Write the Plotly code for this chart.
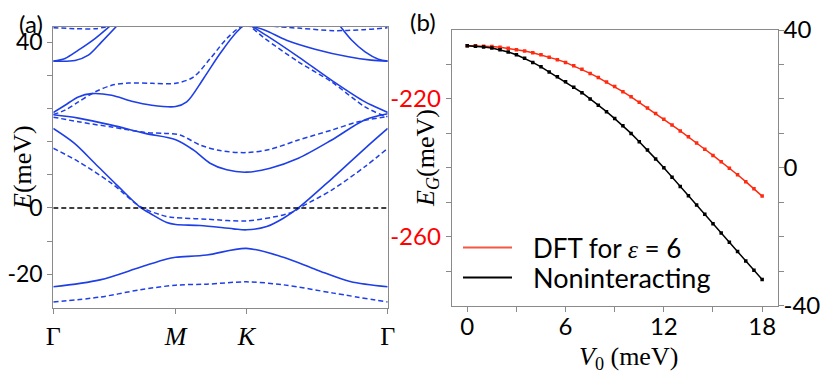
import plotly.graph_objects as go

# ---- panel (a): bands along Gamma-M-K-Gamma (k in units of path length)
K_PATH_TICKS = [0.0, 0.866, 1.366, 2.366]
K_PATH_LABELS = ["Γ", "<i>M</i>", "<i>K</i>", "Γ"]

# solid bands
s1_k = [0, 0.330, 0.614, 0.803, 0.866, 1.086, 1.366, 1.628, 1.864, 2.100, 2.366]
s1_e = [-23.8, -21.7, -17.9, -15.4, -14.9, -14.2, -12.2, -14.9, -18.7, -22.2, -23.8]

s3_k = [0, 0.15, 0.30, 0.45, 0.62, 0.684, 0.803, 0.866, 1.038, 1.274, 1.366, 1.510, 1.628, 1.734, 1.970, 2.206, 2.366]
s3_e = [24.0, 19.5, 13.2, 6.9, 0.0, -1.6, -4.4, -5.0, -5.3, -6.3, -6.6, -5.6, -3.1, 0.0, 8.8, 18.0, 24.0]

s5_k = [0, 0.177, 0.413, 0.650, 0.866, 0.991, 1.109, 1.227, 1.366, 1.534, 1.734, 1.970, 2.206, 2.366]
s5_e = [28.1, 27.1, 25.0, 22.5, 20.6, 17.5, 13.5, 11.5, 10.8, 12.0, 15.0, 20.5, 26.6, 28.4]

s7_k = [0, 0.083, 0.177, 0.271, 0.413, 0.554, 0.696, 0.866, 0.944, 1.062, 1.180, 1.298, 1.366,
        1.498, 1.734, 1.970, 2.206, 2.347, 2.366]
s7_e = [28.8, 31.0, 33.5, 34.5, 34.0, 32.2, 31.0, 30.6, 32.0, 39.0, 46.6, 53.1, 55.3,
        52.3, 45.6, 38.5, 32.0, 29.2, 28.8]

sa_k = [1.366, 1.498, 1.650, 1.852, 2.088, 2.250, 2.366]
sa_e = [55.3, 53.6, 50.6, 47.9, 45.6, 44.6, 44.3]

st1_k = [0, 0.083, 0.177, 0.295, 0.401]
st1_e = [44.3, 45.1, 47.6, 51.1, 54.9]

st2_k = [0, 0.154, 0.248, 0.342, 0.449]
st2_e = [44.3, 44.5, 46.1, 50.1, 54.9]

st3_k = [2.029, 2.112, 2.206, 2.300, 2.366]
st3_e = [54.9, 50.6, 47.1, 44.9, 44.3]

# dashed bands
d2_k = [0, 0.330, 0.614, 0.866, 1.086, 1.366, 1.628, 1.982, 2.366]
d2_e = [-28.4, -26.9, -24.7, -23.3, -23.0, -22.3, -23.2, -25.7, -28.4]

d4_k = [0, 0.177, 0.413, 0.62, 0.803, 0.866, 1.086, 1.366, 1.628, 1.699, 1.758, 1.970, 2.206, 2.366]
d4_e = [18.0, 14.0, 7.4, 0.3, -2.6, -2.9, -3.4, -3.9, -2.1, -1.1, 0.4, 5.4, 12.5, 18.0]

d6_k = [0, 0.177, 0.413, 0.650, 0.791, 0.897, 1.038, 1.180, 1.366, 1.534, 1.734, 1.970, 2.159, 2.366]
d6_e = [27.4, 26.0, 24.4, 22.8, 22.5, 22.0, 19.0, 17.3, 16.7, 17.7, 20.5, 23.5, 26.0, 27.6]

d8_k = [0, 0.083, 0.177, 0.295, 0.413, 0.531, 0.700, 0.866, 0.991, 1.109, 1.227, 1.322, 1.366,
        1.498, 1.734, 1.970, 2.206, 2.347, 2.366]
d8_e = [28.2, 29.5, 32.0, 35.0, 37.0, 37.7, 37.6, 37.6, 39.5, 45.0, 51.1, 54.6, 55.3,
        51.1, 44.1, 38.0, 30.5, 27.7, 27.6]

dt1_k = [0, 0.15, 0.30, 0.40]
dt1_e = [54.4, 54.1, 54.1, 54.9]

dt2_k = [1.557, 1.750, 1.982, 2.200, 2.366]
dt2_e = [54.8, 54.2, 53.5, 53.8, 54.4]

FERMI_E = 0.0

# ---- panel (b): gap vs V0
v0 = [0, 0.5, 1, 1.5, 2, 2.5, 3, 3.5, 4, 4.5, 5, 5.5, 6, 6.5, 7, 7.5, 8, 8.5, 9,
      9.5, 10, 10.5, 11, 11.5, 12, 12.5, 13, 13.5, 14, 14.5, 15, 15.5, 16, 16.5, 17, 17.5, 18]
eg_dft = [-204.6, -204.6, -204.7, -204.8, -205.0, -205.3, -205.7, -206.1, -206.6, -207.2,
          -207.9, -208.6, -209.4, -210.4, -211.4, -212.6, -213.8, -215.1, -216.4, -217.9,
          -219.4, -221.0, -222.6, -224.2, -225.9, -227.6, -229.3, -231.0, -232.8, -234.6,
          -236.4, -238.2, -240.1, -242.0, -244.0, -246.1, -248.2]
eg_nonint = [35.4, 35.3, 35.1, 34.8, 34.3, 33.6, 32.8, 31.8, 30.6, 29.3, 27.8, 26.4, 25.0,
             23.4, 21.8, 20.0, 18.2, 16.3, 14.3, 12.2, 10.0, 7.6, 5.2, 2.6, 0.0, -2.7, -5.4,
             -8.1, -10.8, -13.5, -16.2, -18.9, -21.6, -24.3, -27.0, -29.7, -32.4]

BLUE = "#1f3fe6"
RED = "#ff2a10"
GREY = "#8a8a8a"
TICKFONT = dict(family="Lato", size=24, color="black")
SERIF = "Liberation Serif"

# page body has an 8px margin, so the figure is a bit smaller than the window
OFF = 8
W, H = 830 - OFF, 379 - OFF


def px_x(x):
    return (x - OFF) / W


def px_y(y):
    return 1 - (y - OFF) / H


fig = go.Figure()

solid = [(s1_k, s1_e), (s3_k, s3_e), (s5_k, s5_e), (s7_k, s7_e), (sa_k, sa_e),
         (st1_k, st1_e), (st2_k, st2_e), (st3_k, st3_e)]
dashed = [(d2_k, d2_e), (d4_k, d4_e), (d6_k, d6_e), (d8_k, d8_e), (dt1_k, dt1_e), (dt2_k, dt2_e)]

for kk, ee in dashed:
    fig.add_trace(go.Scatter(x=kk, y=ee, mode="lines", xaxis="x", yaxis="y", showlegend=False,
                             line=dict(color=BLUE, width=1.5, dash="5px,3px", shape="spline", smoothing=0.9)))
for kk, ee in solid:
    fig.add_trace(go.Scatter(x=kk, y=ee, mode="lines", xaxis="x", yaxis="y", showlegend=False,
                             line=dict(color=BLUE, width=1.6, shape="spline", smoothing=0.9)))

fig.add_trace(go.Scatter(x=[K_PATH_TICKS[0], K_PATH_TICKS[-1]], y=[FERMI_E, FERMI_E], mode="lines",
                         xaxis="x", yaxis="y", showlegend=False,
                         line=dict(color="black", width=1.4, dash="5px,3px")))

fig.add_trace(go.Scatter(x=v0, y=eg_dft, mode="lines+markers", xaxis="x2", yaxis="y2",
                         name="DFT for ε = 6", showlegend=False,
                         line=dict(color=RED, width=1.5),
                         marker=dict(symbol="square", size=3.5, color=RED)))
fig.add_trace(go.Scatter(x=v0, y=eg_nonint, mode="lines+markers", xaxis="x2", yaxis="y3",
                         name="Noninteracting", showlegend=False,
                         line=dict(color="black", width=1.5),
                         marker=dict(symbol="square", size=3.5, color="black")))

axis_common = dict(showline=True, linecolor=GREY, linewidth=1, ticks="outside", ticklen=5,
                   tickcolor=GREY, showgrid=False, zeroline=False, automargin=False)

fig.update_layout(
    width=W, height=H, autosize=False,
    margin=dict(l=0, r=0, t=0, b=0, pad=0),
    paper_bgcolor="white", plot_bgcolor="white",
    xaxis=dict(domain=[px_x(53.3), px_x(387.7)], range=[0, 2.366], anchor="y", mirror=True,
               tickvals=K_PATH_TICKS, ticktext=K_PATH_LABELS, ticklabelstandoff=0,
               tickfont=dict(family=SERIF, size=26, color="black"), **axis_common),
    yaxis=dict(domain=[px_y(307.7), px_y(27)], range=[-30.1, 54.6], anchor="x", mirror=True,
               tickvals=[-20, -10, 0, 10, 20, 30, 40, 50],
               ticktext=["-20", "", "0", "", "", "", "", "40"],
               tickfont=dict(family="Lato", size=23, color="black"), **axis_common),
    xaxis2=dict(domain=[px_x(451.7), px_x(777.7)], range=[-0.95, 18.95], anchor="y2", mirror=True,
                tickvals=[0, 3, 6, 9, 12, 15, 18], ticktext=["0", "", "6", "", "12", "", "18"],
                ticklabelstandoff=-6, tickfont=TICKFONT, **axis_common),
    yaxis2=dict(domain=[px_y(305.7), px_y(30)], range=[-280, -200], anchor="x2",
                tickvals=[-270, -260, -250, -240, -230, -220, -210],
                ticktext=["", "-260", "", "", "", "-220", ""],
                tickfont=dict(family="Lato", size=24, color="red"), **axis_common),
    yaxis3=dict(domain=[px_y(305.7), px_y(30)], range=[-40, 40], anchor="x2", overlaying="y2", side="right",
                tickvals=[-40, -30, -20, -10, 0, 10, 20, 30, 40],
                ticktext=["-40", "", "", "", "0", "", "", "", "40"],
                ticklabelstandoff=-5, tickfont=TICKFONT, **axis_common),
)


def label(text, x, y, size=26, family="Lato", angle=0, xanchor="center"):
    fig.add_annotation(text=text, x=px_x(x), y=px_y(y), xref="paper", yref="paper",
                       xanchor=xanchor, yanchor="middle", textangle=angle, showarrow=False,
                       font=dict(family=family, size=size, color="black"))


# panel labels and axis titles
label("(a)", 31, 23, size=24)
label("(b)", 423, 21, size=24)
label("<i>E</i>(meV)", 22, 168, family=SERIF, angle=-90)
label("<i>E<sub>G</sub></i>(meV)", 427, 158, family=SERIF, angle=-90)
label("<i>V</i><sub>0</sub> (meV)", 628, 358, family=SERIF)

# hand-drawn legend
fig.add_shape(type="line", xref="paper", yref="paper", x0=px_x(463), x1=px_x(512),
              y0=px_y(247.5), y1=px_y(247.5), line=dict(color="#f25a44", width=2))
fig.add_shape(type="line", xref="paper", yref="paper", x0=px_x(463), x1=px_x(512),
              y0=px_y(277.5), y1=px_y(277.5), line=dict(color="black", width=2))
label("DFT for <span style='font-family:Liberation Serif'><i>ε</i></span> = 6", 531, 248,
      size=26, xanchor="left")
label("Noninteracting", 531, 277, size=27, xanchor="left")

fig.write_html("out.html")
